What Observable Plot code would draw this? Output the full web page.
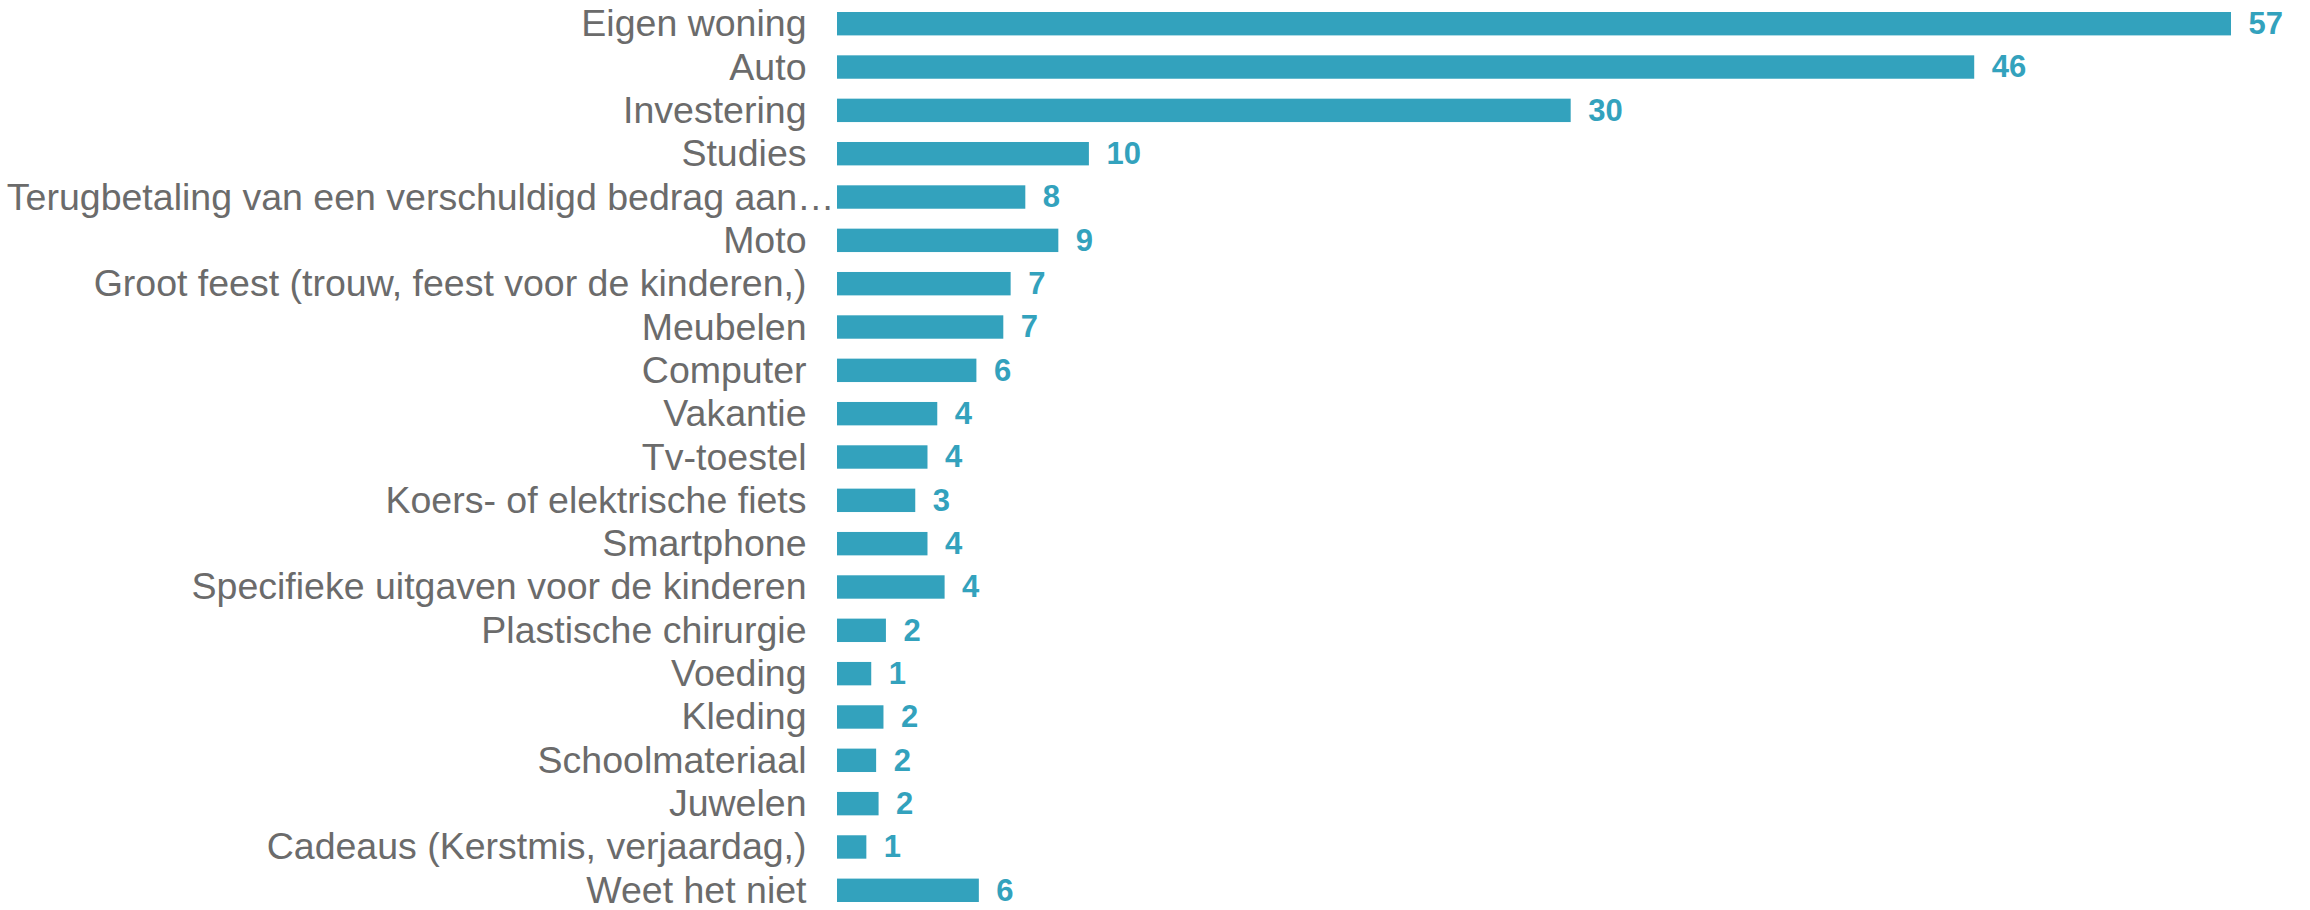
<!DOCTYPE html>
<html><head><meta charset="utf-8">
<script src="https://cdn.jsdelivr.net/npm/d3@7"></script>
<script src="https://cdn.jsdelivr.net/npm/@observablehq/plot@0.6"></script>
<style>body{margin:0;background:#fff}</style>
</head><body><div id="chart"></div>
<script>
const categories = [
  "Eigen woning", "Auto", "Investering", "Studies",
  "Terugbetaling van een verschuldigd bedrag aan…", "Moto",
  "Groot feest (trouw, feest voor de kinderen,)", "Meubelen", "Computer",
  "Vakantie", "Tv-toestel", "Koers- of elektrische fiets", "Smartphone",
  "Specifieke uitgaven voor de kinderen", "Plastische chirurgie", "Voeding",
  "Kleding", "Schoolmateriaal", "Juwelen", "Cadeaus (Kerstmis, verjaardag,)",
  "Weet het niet"
];
const values = [57.0, 46.5, 30.0, 10.3, 7.7, 9.05, 7.1, 6.8, 5.7, 4.1, 3.7, 3.2, 3.7, 4.4, 2.0, 1.4, 1.9, 1.6, 1.7, 1.2, 5.8];
const valueLabels = ["57", "46", "30", "10", "8", "9", "7", "7", "6", "4", "4", "3", "4", "4", "2", "1", "2", "2", "2", "1", "6"];

const data = categories.map((c, i) => ({category: c, value: values[i], label: valueLabels[i]}));

const FONT = "'Liberation Sans', Arial, sans-serif";
const LABEL_SIZE = 37.5;
const MARGIN_LEFT = 837;
const GAP = 31;
const ctx = document.createElement("canvas").getContext("2d");
ctx.font = `${LABEL_SIZE}px ${FONT}`;
const fits = (s) => ctx.measureText(s).width <= MARGIN_LEFT - GAP - 12;

const chart = Plot.plot({
  width: 2310, height: 910,
  marginLeft: MARGIN_LEFT, marginRight: 79, marginTop: 12, marginBottom: 8,
  style: {fontFamily: FONT, background: "#fff"},
  x: {domain: [0, 57], axis: null},
  y: {domain: categories, axis: null, paddingInner: 0.46, paddingOuter: 0, round: false},
  marks: [
    Plot.barX(data, {x: "value", y: "category", fill: "#33a2bd"}),
    Plot.text(data.filter(d => fits(d.category)), {x: 0, y: "category", text: "category", textAnchor: "end", dx: -GAP, fontSize: LABEL_SIZE, fill: "#6b6b6b"}),
    Plot.text(data.filter(d => !fits(d.category)), {x: 0, y: "category", text: "category", textAnchor: "end", dx: -3, fontSize: LABEL_SIZE, fill: "#6b6b6b"}),
    Plot.text(data, {x: "value", y: "category", text: "label", textAnchor: "start", dx: 17, fontSize: 31, fontWeight: "bold", fill: "#33a2bd"})
  ]
});
document.getElementById("chart").append(chart);
</script></body></html>
